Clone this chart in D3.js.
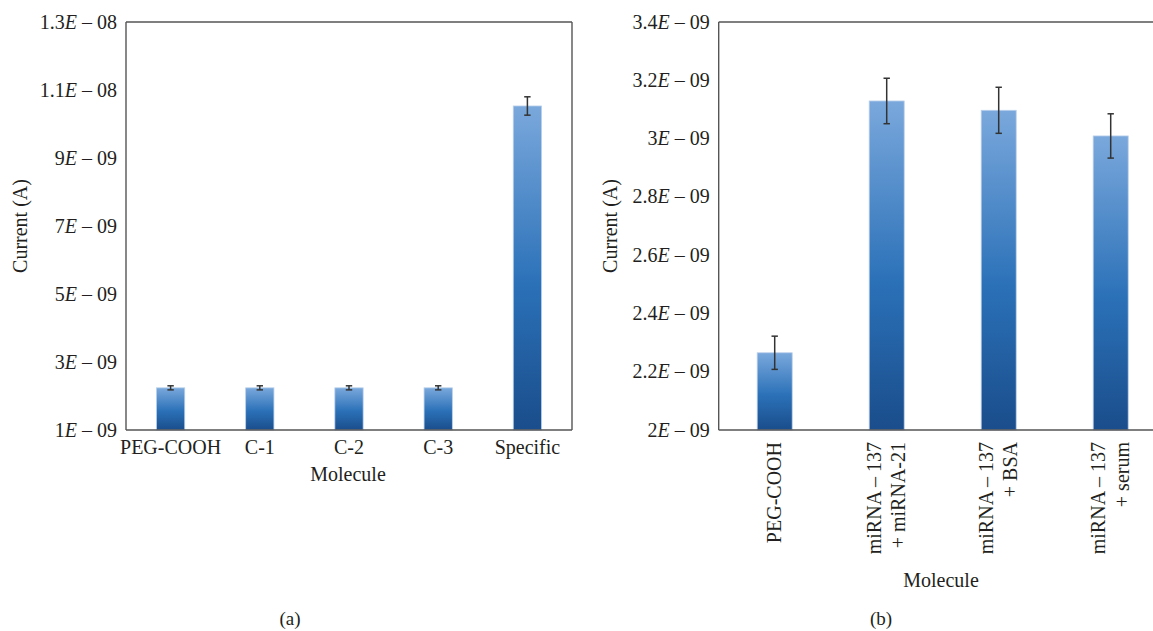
<!DOCTYPE html>
<html>
<head>
<meta charset="utf-8">
<script src="https://cdn.jsdelivr.net/npm/d3@7"></script>
<style>
  html, body { margin: 0; padding: 0; background: #fff; }
  svg { display: block; }
  text { font-family: "Liberation Serif", "Times New Roman", serif; fill: #231f20; }
</style>
</head>
<body>
<svg id="chart" width="1153" height="631"></svg>
<script>
// ---- Panel (a) data ----
const catsA = ["PEG-COOH", "C-1", "C-2", "C-3", "Specific"];
const valsA = [2.24e-9, 2.24e-9, 2.24e-9, 2.24e-9, 1.053e-8];
const errsA = [0.06e-9, 0.06e-9, 0.06e-9, 0.06e-9, 0.27e-9];
const ticksA = [1e-9, 3e-9, 5e-9, 7e-9, 9e-9, 1.1e-8, 1.3e-8];
const tickLabelsA = ["1E – 09", "3E – 09", "5E – 09", "7E – 09", "9E – 09", "1.1E – 08", "1.3E – 08"];

// ---- Panel (b) data ----
const catsB = [["PEG-COOH"], ["miRNA – 137", "+ miRNA-21"], ["miRNA – 137", "+ BSA"], ["miRNA – 137", "+ serum"]];
const valsB = [2.265e-9, 3.129e-9, 3.097e-9, 3.009e-9];
const errsB = [0.057e-9, 0.078e-9, 0.079e-9, 0.076e-9];
const ticksB = [2.0e-9, 2.2e-9, 2.4e-9, 2.6e-9, 2.8e-9, 3.0e-9, 3.2e-9, 3.4e-9];
const tickLabelsB = ["2E – 09", "2.2E – 09", "2.4E – 09", "2.6E – 09", "2.8E – 09", "3E – 09", "3.2E – 09", "3.4E – 09"];

const svg = d3.select("#chart");
const FS = 20;

// gradient
const defs = svg.append("defs");
const grad = defs.append("linearGradient").attr("id", "barGrad")
  .attr("x1", 0).attr("y1", 0).attr("x2", 0).attr("y2", 1);
grad.append("stop").attr("offset", "0%").attr("stop-color", "#7aa8dc");
grad.append("stop").attr("offset", "55%").attr("stop-color", "#2b71b8");
grad.append("stop").attr("offset", "100%").attr("stop-color", "#1a4d8b");

function tickLabel(sel, label) {
  const parts = label.split("E");
  sel.text(null);
  sel.append("tspan").text(parts[0]);
  sel.append("tspan").attr("font-style", "italic").text("E");
  sel.append("tspan").text(parts[1]);
}

function panel(cfg) {
  const g = svg.append("g");
  const x = d3.scaleBand().domain(cfg.cats.map((d, i) => i))
    .range([cfg.left, cfg.right]).paddingInner(cfg.pad).paddingOuter(cfg.pad / 2);
  const y = d3.scaleLinear().domain(cfg.domain).range([cfg.bottom, cfg.top]);

  // y axis with labels, no tick marks
  const yAxis = d3.axisLeft(y).tickValues(cfg.ticks).tickSize(0).tickPadding(9)
    .tickFormat((d, i) => cfg.tickLabels[i]);
  const ya = g.append("g").attr("transform", `translate(${cfg.left},0)`).call(yAxis);
  ya.select(".domain").remove();
  ya.selectAll("text").attr("font-size", FS).attr("font-family", null).attr("fill", "#231f20")
    .attr("dy", "0.3em")
    .each(function(d, i) { tickLabel(d3.select(this), cfg.tickLabels[i]); });

  // bars
  g.selectAll("rect.bar").data(cfg.vals).join("rect").attr("class", "bar")
    .attr("x", (d, i) => x(i))
    .attr("width", x.bandwidth())
    .attr("y", d => y(d))
    .attr("height", d => y(cfg.domain[0]) - y(d))
    .attr("fill", "url(#barGrad)")
    .attr("stroke", "#b9cfeb").attr("stroke-width", 0.8);

  // error bars
  const eb = g.selectAll("g.err").data(cfg.vals).join("g").attr("class", "err");
  eb.each(function(d, i) {
    const cx = x(i) + x.bandwidth() / 2;
    const e = cfg.errs[i];
    const s = d3.select(this);
    s.append("line").attr("x1", cx).attr("x2", cx).attr("y1", y(d + e)).attr("y2", y(d - e));
    s.append("line").attr("x1", cx - 3.2).attr("x2", cx + 3.2).attr("y1", y(d + e)).attr("y2", y(d + e));
    s.append("line").attr("x1", cx - 3.2).attr("x2", cx + 3.2).attr("y1", y(d - e)).attr("y2", y(d - e));
  });
  eb.selectAll("line").attr("stroke", "#333").attr("stroke-width", 1.5);

  // frame
  const fr = g.append("g").attr("fill", "none").attr("stroke", "#555").attr("stroke-width", 1.4);
  fr.append("line").attr("x1", cfg.left).attr("x2", cfg.right).attr("y1", cfg.top).attr("y2", cfg.top);
  fr.append("line").attr("x1", cfg.left).attr("x2", cfg.right).attr("y1", cfg.bottom).attr("y2", cfg.bottom);
  fr.append("line").attr("x1", cfg.left).attr("x2", cfg.left).attr("y1", cfg.top).attr("y2", cfg.bottom);
  fr.append("line").attr("x1", cfg.right).attr("x2", cfg.right).attr("y1", cfg.top).attr("y2", cfg.bottom);

  // y title
  g.append("text").attr("transform", `translate(${cfg.yTitleX},${(cfg.top + cfg.bottom) / 2}) rotate(-90)`)
    .attr("text-anchor", "middle").attr("font-size", FS).text("Current (A)");

  // x labels
  if (cfg.rotated) {
    cfg.cats.forEach((lines, i) => {
      const cx = x(i) + x.bandwidth() / 2;
      const n = lines.length;
      lines.forEach((ln, j) => {
        const bx = cx + (j - (n - 1) / 2) * 24 + 6.5;
        g.append("text").attr("transform", `translate(${bx},${cfg.bottom + 12}) rotate(-90)`)
          .attr("text-anchor", "end").attr("font-size", FS).text(ln);
      });
    });
  } else {
    g.selectAll("text.xl").data(cfg.cats).join("text").attr("class", "xl")
      .attr("x", (d, i) => x(i) + x.bandwidth() / 2)
      .attr("y", cfg.bottom + 24)
      .attr("text-anchor", "middle").attr("font-size", FS).text(d => d);
  }

  g.append("text").attr("x", cfg.molX).attr("y", cfg.molY).attr("text-anchor", "middle")
    .attr("font-size", FS).text("Molecule");
  g.append("text").attr("x", cfg.labX).attr("y", 625).attr("text-anchor", "middle")
    .attr("font-size", FS - 1).text(cfg.lab);
}

panel({
  cats: catsA, vals: valsA, errs: errsA, ticks: ticksA, tickLabels: tickLabelsA,
  domain: [1e-9, 1.3e-8], left: 126, right: 572, top: 22, bottom: 430, pad: 0.683,
  yTitleX: 27, rotated: false, molX: 348, molY: 481, labX: 290, lab: "(a)"
});

panel({
  cats: catsB, vals: valsB, errs: errsB, ticks: ticksB, tickLabels: tickLabelsB,
  domain: [2e-9, 3.4e-9], left: 718.7, right: 1166.7, top: 22, bottom: 430, pad: 0.6875,
  yTitleX: 617, rotated: true, molX: 941, molY: 587, labX: 881, lab: "(b)"
});
</script>
</body>
</html>
